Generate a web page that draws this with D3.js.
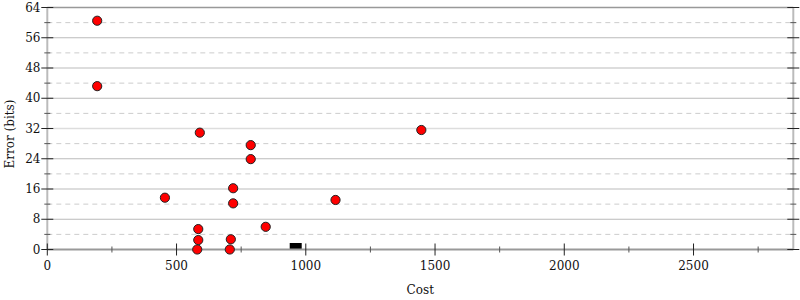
<!DOCTYPE html>
<html><head><meta charset="utf-8">
<script src="https://cdn.jsdelivr.net/npm/d3@7"></script>
<style>body{margin:0;background:#fff}svg{display:block}text{font-family:"DejaVu Serif",serif;font-size:12px;fill:#111}</style>
</head><body><svg id="c" width="800" height="300"></svg>
<script>
const costs  = [193, 193, 590, 1447, 787, 787, 719, 455, 719, 1115, 845, 584, 584, 710, 580, 706];
const errors = [60.5, 43.2, 30.9, 31.6, 27.6, 23.9, 16.2, 13.7, 12.2, 13.1, 6.0, 5.4, 2.5, 2.7, 0, 0];
const startCost = [961];
const startError = [0];
const xTicks = [0, 500, 1000, 1500, 2000, 2500];
const yTicks = [0, 8, 16, 24, 32, 40, 48, 56, 64];
const xMax = 2886, yMax = 64;

const svg = d3.select("#c");
const x = d3.scaleLinear().domain([0, xMax]).range([47.3, 793.3]);
const y = d3.scaleLinear().domain([0, yMax]).range([249.5, 7.5]);

// grid
const solid = d3.range(8, 64, 8), dashed = d3.range(4, 64, 8);
svg.append("g").selectAll("line").data(solid).join("line")
  .attr("x1", x(0)).attr("x2", x(xMax)).attr("y1", d => y(d)).attr("y2", d => y(d))
  .attr("stroke", d => d === 32 ? "#ddd" : "#bbb").attr("stroke-width", d => d === 32 ? 1.5 : 1);
svg.append("g").selectAll("line").data(dashed).join("line")
  .attr("x1", x(0)).attr("x2", x(xMax)).attr("y1", d => y(d)).attr("y2", d => y(d))
  .attr("stroke", "#ccc").attr("stroke-dasharray", "5,4");

// frame
svg.append("line").attr("x1", x(0)).attr("x2", x(xMax)).attr("y1", y(64)).attr("y2", y(64)).attr("stroke", "#999").attr("stroke-width", 1.5);
svg.append("line").attr("x1", x(0)).attr("x2", x(0)).attr("y1", y(0)).attr("y2", y(64)).attr("stroke", "#bbb").attr("stroke-width", 2);
svg.append("line").attr("x1", x(xMax)).attr("x2", x(xMax)).attr("y1", y(0)).attr("y2", y(64)).attr("stroke", "#bbb").attr("stroke-width", 2);

// start marker
svg.append("g").selectAll("rect").data(startCost).join("rect")
  .attr("x", d => x(d) - 6).attr("y", (d, i) => y(startError[i]) - 6.5).attr("width", 12).attr("height", 7).attr("fill", "#000");

svg.append("line").attr("x1", x(0)).attr("x2", x(xMax)).attr("y1", y(0)).attr("y2", y(0)).attr("stroke", "#999").attr("stroke-width", 2);

// x axis ticks
const xMinor = d3.range(250, xMax, 500);
svg.append("g").selectAll("line").data(xTicks).join("line")
  .attr("x1", d => x(d)).attr("x2", d => x(d)).attr("y1", y(0) - 6).attr("y2", y(0) + 6).attr("stroke", "#222");
svg.append("g").selectAll("line").data(xMinor).join("line")
  .attr("x1", d => x(d)).attr("x2", d => x(d)).attr("y1", y(0) - 3).attr("y2", y(0) + 3).attr("stroke", "#555");
svg.append("g").selectAll("text").data(xTicks).join("text")
  .attr("x", d => x(d)).attr("y", 270).attr("text-anchor", "middle").text(d => d);

// y axis ticks
[x(0), x(xMax)].forEach(px => {
  svg.append("g").selectAll("line").data(yTicks).join("line")
    .attr("x1", px - 6).attr("x2", px + 6).attr("y1", d => y(d)).attr("y2", d => y(d)).attr("stroke", "#222");
  svg.append("g").selectAll("line").data(dashed).join("line")
    .attr("x1", px - 3).attr("x2", px + 3).attr("y1", d => y(d)).attr("y2", d => y(d)).attr("stroke", "#555");
});
svg.append("g").selectAll("text").data(yTicks).join("text")
  .attr("x", 40.5).attr("y", d => y(d)).attr("dy", "0.35em").attr("text-anchor", "end").text(d => d);

// points
svg.append("g").selectAll("circle").data(costs).join("circle")
  .attr("cx", d => x(d)).attr("cy", (d, i) => y(errors[i])).attr("r", 4.6)
  .attr("fill", "red").attr("stroke", "#222").attr("stroke-width", 1);

// labels
svg.append("text").attr("x", (x(0) + x(xMax)) / 2).attr("y", 294).attr("text-anchor", "middle").text("Cost");
svg.append("text").attr("transform", "translate(13.5," + 134 + ") rotate(-90)").attr("text-anchor", "middle").text("Error (bits)");
</script></body></html>
